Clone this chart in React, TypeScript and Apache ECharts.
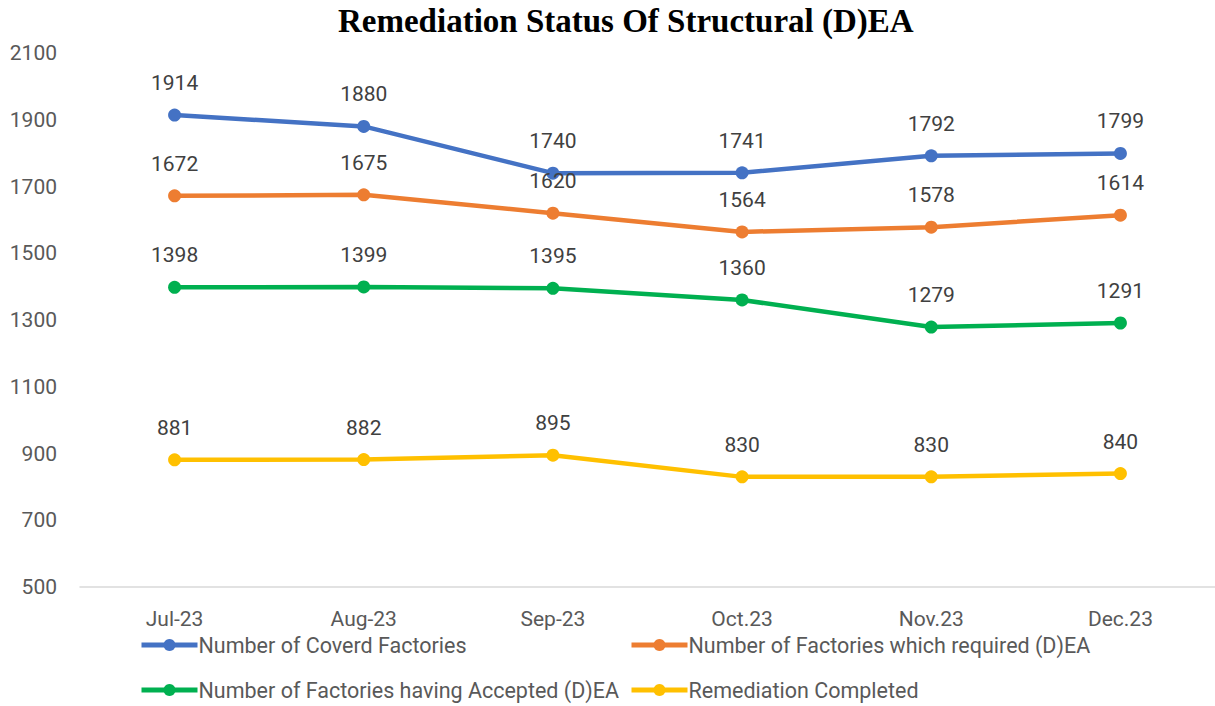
import React, { useEffect, useRef } from "react";
import * as echarts from "echarts";

const categories = ["Jul-23", "Aug-23", "Sep-23", "Oct.23", "Nov.23", "Dec.23"];
const seriesNames = [
  "Number of Coverd Factories",
  "Number of Factories which required (D)EA",
  "Number of Factories having Accepted (D)EA",
  "Remediation Completed",
];
const coveredFactories = [1914, 1880, 1740, 1741, 1792, 1799];
const requiredDEA = [1672, 1675, 1620, 1564, 1578, 1614];
const acceptedDEA = [1398, 1399, 1395, 1360, 1279, 1291];
const remediationCompleted = [881, 882, 895, 830, 830, 840];
const colors = ["#4472C4", "#ED7D31", "#00B050", "#FFC000"];

const FONT = "Roboto";

export default function App() {
  const ref = useRef<HTMLDivElement>(null);
  useEffect(() => {
    document.body.style.margin = "0";
    const chart = echarts.init(ref.current!, null, { renderer: "svg" });
    const allData = [coveredFactories, requiredDEA, acceptedDEA, remediationCompleted];
    const legendPos = [
      { left: 139, top: 634 },
      { left: 629, top: 634 },
      { left: 139, top: 679 },
      { left: 629, top: 679 },
    ];
    chart.setOption({
      animation: false,
      title: {
        text: "Remediation Status Of Structural (D)EA",
        left: 333,
        top: -1,
        textStyle: {
          fontFamily: "Liberation Serif",
          fontWeight: "bold",
          fontSize: 33,
          color: "#000",
        },
      },
      legend: seriesNames.map((n, i) => ({
        data: [n],
        left: legendPos[i].left,
        top: legendPos[i].top,
        padding: 0,
        itemWidth: 56,
        itemHeight: 15,
        itemGap: 0,
        lineStyle: { width: 5 },
        textStyle: { fontFamily: FONT, fontSize: 21.5, color: "#595959", padding: [0, 0, 0, -4] },
      })),
      grid: { left: 80, right: -4, top: 53, height: 534 },
      xAxis: {
        type: "category",
        data: categories,
        boundaryGap: true,
        axisLine: { lineStyle: { color: "#D9D9D9", width: 1.5 } },
        axisTick: { show: false },
        axisLabel: { fontFamily: FONT, fontSize: 21, color: "#595959", margin: 21 },
      },
      yAxis: {
        type: "value",
        min: 500,
        max: 2100,
        interval: 200,
        splitLine: { show: false },
        axisLine: { show: false },
        axisTick: { show: false },
        axisLabel: {
          fontFamily: FONT,
          fontSize: 21,
          color: "#595959",
          margin: 23,
          formatter: (v: number) => String(v),
        },
      },
      series: allData.map((d, i) => ({
        name: seriesNames[i],
        type: "line",
        data: d,
        color: colors[i],
        symbol: "circle",
        symbolSize: 13,
        lineStyle: { width: 4.5, color: colors[i] },
        itemStyle: { color: colors[i] },
        label: {
          show: true,
          position: "top",
          distance: 15,
          fontFamily: FONT,
          fontSize: 21,
          color: "#404040",
        },
      })),
    });
    return () => chart.dispose();
  }, []);
  return <div ref={ref} style={{ width: 1215, height: 706 }} />;
}
